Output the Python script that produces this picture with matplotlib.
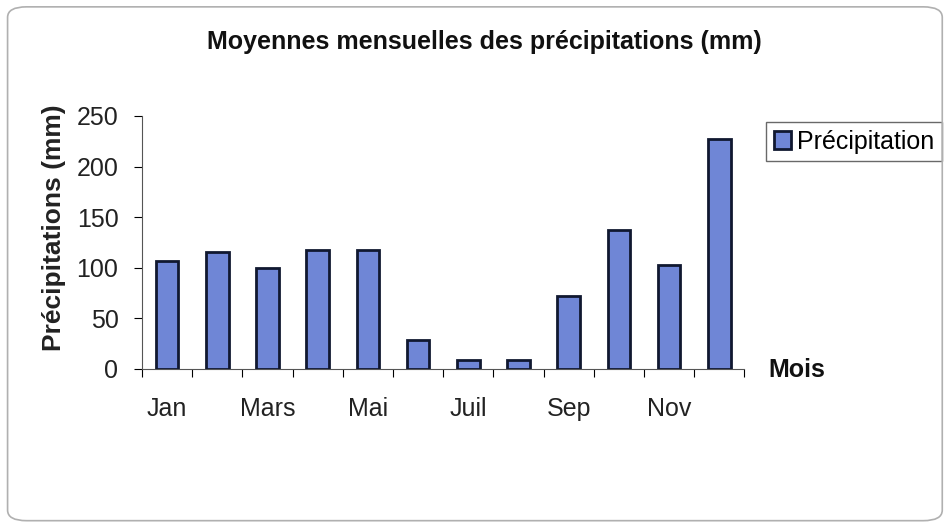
import matplotlib.pyplot as plt
import numpy as np
from matplotlib.patches import FancyBboxPatch

mois = ['Jan', 'Fév', 'Mars', 'Avr', 'Mai', 'Juin', 'Juil', 'Août', 'Sep', 'Oct', 'Nov', 'Déc']
precip = [107, 116, 100, 118, 118, 29, 9, 9, 72, 137, 103, 227]

plt.rcParams['font.family'] = ['Liberation Sans', 'DejaVu Sans']

fig = plt.figure(figsize=(9.47, 5.27), dpi=100)
fig.patches.append(FancyBboxPatch((0.008, 0.012), 0.987, 0.975,
                                  boxstyle='round,pad=0,rounding_size=0.02',
                                  transform=fig.transFigure, fill=False,
                                  edgecolor='#b0b0b0', linewidth=1.2))

ax = fig.add_axes([0.150, 0.300, 0.636, 0.480])
x = np.arange(len(mois))
ax.bar(x, precip, width=0.45, color='#6f86d6', edgecolor='#101830',
       linewidth=2, label='Précipitation', zorder=3)

ax.set_xlim(-0.5, len(mois) - 0.5)
ax.set_ylim(0, 250)
ax.set_yticks(np.arange(0, 251, 50))
ax.tick_params(axis='y', labelsize=18, length=6, direction='out', pad=11,
               labelcolor='#222222')

# category labels every other month, ticks between categories
ax.set_xticks(np.arange(-0.5, len(mois), 1))
ax.set_xticklabels([])
ax.set_xticks(x[::2], minor=True)
ax.set_xticklabels(mois[::2], minor=True, fontsize=18, color='#222222')
ax.tick_params(axis='x', which='major', length=6, direction='out')
ax.tick_params(axis='x', which='minor', length=0, pad=20)

for s in ['top', 'right']:
    ax.spines[s].set_visible(False)
ax.spines['left'].set_color('#555555')
ax.spines['bottom'].set_color('#555555')

fig.text(54 / 947, 1 - 228 / 527, 'Précipitations (mm)', rotation=90,
         fontsize=19, fontweight='bold', ha='center', va='center', color='#222222')
ax.text(1.04, -0.005, 'Mois', transform=ax.transAxes, fontsize=18,
        fontweight='bold', va='center', ha='left', color='#111111')

fig.text(0.512, 0.92, 'Moyennes mensuelles des précipitations (mm)',
         fontsize=18, fontweight='bold', ha='center', va='center', color='#111111')

leg = ax.legend(loc='upper left', bbox_to_anchor=(766 / 947, 1 - 122 / 527),
                bbox_transform=fig.transFigure, fontsize=18,
                frameon=True, fancybox=False, edgecolor='#444444',
                handlelength=0.7, handleheight=0.7, handletextpad=0.25,
                borderpad=0.3, borderaxespad=0)
leg.get_frame().set_linewidth(1.0)

fig.savefig('out.png', dpi=100)
